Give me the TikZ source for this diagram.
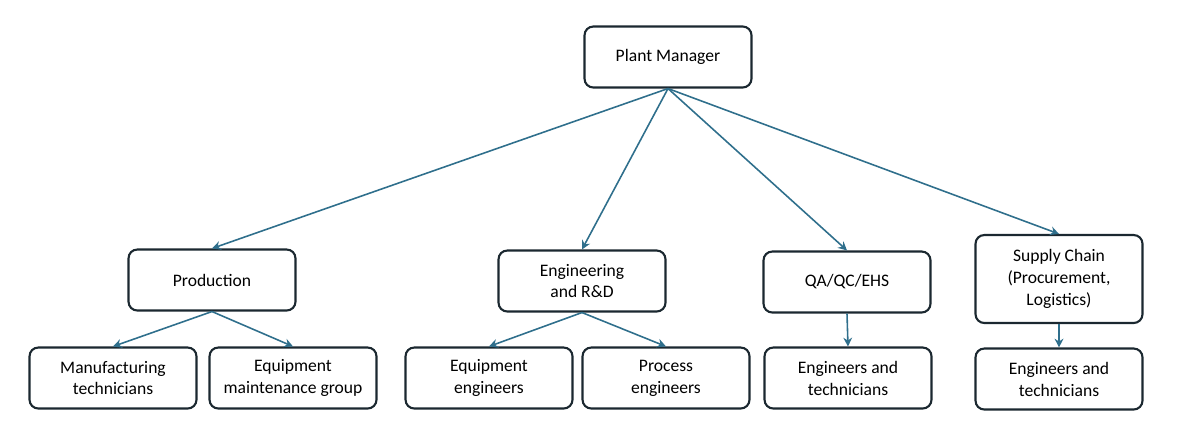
\documentclass[tikz,border=0pt]{standalone}
\usepackage{fontspec}
\setmainfont{Carlito}
\usetikzlibrary{arrows.meta}

\definecolor{boxline}{HTML}{1B2830}
\definecolor{linkteal}{HTML}{2F6F8C}

\begin{document}
\begin{tikzpicture}[x=0.02cm, y=-0.02cm,
    unit/.style={draw=boxline, line width=1.2pt, rounded corners=5pt, fill=white,
        minimum width=3.34cm, minimum height=1.22cm, align=center,
        font=\fontsize{10}{12.5}\selectfont, inner sep=2pt},
    tall/.style={unit, minimum height=1.76cm},
    link/.style={draw=linkteal, line width=0.9pt, -{Stealth[length=5pt, width=5pt]}}]
    % Frame
    \useasboundingbox (0,0) rectangle (1184,434);

    % Top
    \node[unit] (pm) at (668,57) {Plant Manager};

    % Departments
    \node[unit] (prod) at (212,280) {Production};
    \node[unit] (eng) at (582,281) {Engineering\\and R\&D};
    \node[unit] (qa) at (847,282) {QA/QC/EHS};
    \node[tall] (sc) at (1059,279) {Supply Chain\\(Procurement,\\Logistics)};

    % Teams
    \node[unit] (mfg) at (113,378) {Manufacturing\\technicians};
    \node[unit] (maint) at (293,378) {Equipment\\maintenance group};
    \node[unit] (eqeng) at (489,378) {Equipment\\engineers};
    \node[unit] (proceng) at (666,378) {Process\\engineers};
    \node[unit] (qaeng) at (848,378) {Engineers and\\technicians};
    \node[unit] (sceng) at (1059,379) {Engineers and\\technicians};

    % Links
    \draw[link] (pm.south) -- (prod.north);
    \draw[link] (pm.south) -- (eng.north);
    \draw[link] (pm.south) -- (qa.north);
    \draw[link] (pm.south) -- (sc.north);
    \draw[link] (prod.south) -- (mfg.north);
    \draw[link] (prod.south) -- (maint.north);
    \draw[link] (eng.south) -- (eqeng.north);
    \draw[link] (eng.south) -- (proceng.north);
    \draw[link] (qa.south) -- (qaeng.north);
    \draw[link] (sc.south) -- (sceng.north);
\end{tikzpicture}
\end{document}
